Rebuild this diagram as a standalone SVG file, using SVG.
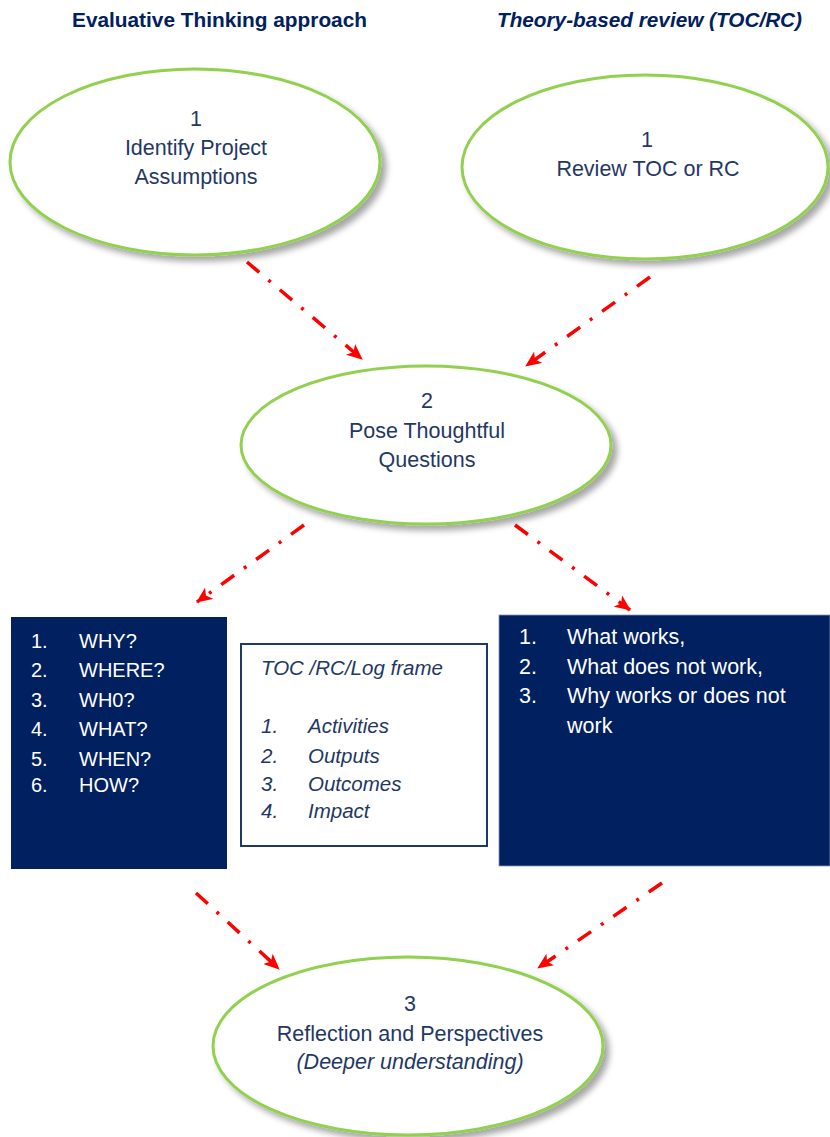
<svg xmlns="http://www.w3.org/2000/svg" width="830" height="1137" viewBox="0 0 830 1137">
<style>
.title{font-family:"Liberation Sans",Arial,sans-serif;font-weight:bold;font-size:20px;fill:#002060}
.ell{fill:#fff;stroke:#92D050;stroke-width:3}
.et{font-family:"Liberation Sans",Arial,sans-serif;font-size:21.5px;fill:#1F3864;text-anchor:middle}
.box{fill:#002060}
.wt{font-family:"Liberation Sans",Arial,sans-serif;font-size:20px;fill:#fff}
.wt2{font-family:"Liberation Sans",Arial,sans-serif;font-size:21.5px;fill:#fff}
.it{font-family:"Liberation Sans",Arial,sans-serif;font-size:20.5px;font-style:italic;fill:#1F3864}
.arr{stroke:#FF0000;stroke-width:3.5;fill:none;stroke-dasharray:16 12 3 12;marker-end:url(#ah)}
</style>
<defs>
<filter id="sh" x="-10%" y="-10%" width="125%" height="130%">
<feDropShadow dx="5" dy="5" stdDeviation="3" flood-color="#000" flood-opacity="0.35"/>
</filter>
<marker id="ah" markerUnits="userSpaceOnUse" markerWidth="16" markerHeight="14" refX="15" refY="7" orient="auto">
<path d="M0,0 L16,7 L0,14 L4,7 z" fill="#FF0000"/>
</marker>
</defs>
<rect width="830" height="1137" fill="#fff"/>
<g id="titles">
<text class="title" x="72" y="27" textLength="295" lengthAdjust="spacingAndGlyphs">Evaluative Thinking approach</text>
<text class="title" x="497" y="27" font-style="italic" textLength="305" lengthAdjust="spacingAndGlyphs">Theory-based review (TOC/RC)</text>
</g>
<g id="connectors">
<line class="arr" x1="247" y1="262" x2="362" y2="359"/>
<line class="arr" x1="650" y1="277" x2="526" y2="366"/>
<line class="arr" x1="304" y1="525" x2="197" y2="602"/>
<line class="arr" x1="515" y1="525" x2="630" y2="610"/>
<line class="arr" x1="196" y1="893" x2="279" y2="969"/>
<line class="arr" x1="662" y1="883" x2="538" y2="968"/>
</g>
<g id="node-identify">
<ellipse class="ell" cx="195" cy="162" rx="185" ry="93" filter="url(#sh)"/>
<text class="et" x="196" y="126">1</text>
<text class="et" x="196" y="155">Identify Project</text>
<text class="et" x="196" y="184">Assumptions</text>
</g>
<g id="node-review">
<ellipse class="ell" cx="645" cy="167" rx="183" ry="92" filter="url(#sh)"/>
<text class="et" x="647" y="147">1</text>
<text class="et" x="648" y="176">Review TOC or RC</text>
</g>
<g id="node-pose">
<ellipse class="ell" cx="426" cy="445" rx="185" ry="79" filter="url(#sh)"/>
<text class="et" x="427" y="408">2</text>
<text class="et" x="427" y="438">Pose Thoughtful</text>
<text class="et" x="427" y="467">Questions</text>
</g>
<g id="node-questions">
<rect class="box" x="11" y="617" width="216" height="252"/>
<text class="wt" x="31" y="648">1.</text><text class="wt" x="79" y="648">WHY?</text>
<text class="wt" x="31" y="677">2.</text><text class="wt" x="79" y="677">WHERE?</text>
<text class="wt" x="31" y="707">3.</text><text class="wt" x="79" y="707">WH0?</text>
<text class="wt" x="31" y="736">4.</text><text class="wt" x="79" y="736">WHAT?</text>
<text class="wt" x="31" y="766">5.</text><text class="wt" x="79" y="766">WHEN?</text>
<text class="wt" x="31" y="792">6.</text><text class="wt" x="79" y="792">HOW?</text>
</g>
<g id="node-toc">
<rect x="241" y="644" width="246" height="202" fill="#fff" stroke="#1F3864" stroke-width="2"/>
<text class="it" x="261" y="675">TOC /RC/Log frame</text>
<text class="it" x="261" y="733">1.</text><text class="it" x="308" y="733">Activities</text>
<text class="it" x="261" y="763">2.</text><text class="it" x="308" y="763">Outputs</text>
<text class="it" x="261" y="791">3.</text><text class="it" x="308" y="791">Outcomes</text>
<text class="it" x="261" y="818">4.</text><text class="it" x="308" y="818">Impact</text>
</g>
<g id="node-works">
<rect class="box" x="499" y="615" width="331" height="251" stroke="#8896b8" stroke-width="0.8"/>
<text class="wt2" x="519" y="644">1.</text><text class="wt2" x="567" y="644">What works,</text>
<text class="wt2" x="519" y="674">2.</text><text class="wt2" x="567" y="674">What does not work,</text>
<text class="wt2" x="519" y="703">3.</text><text class="wt2" x="567" y="703">Why works or does not</text>
<text class="wt2" x="567" y="733">work</text>
</g>
<g id="node-reflection">
<ellipse class="ell" cx="408" cy="1046" rx="195" ry="89" filter="url(#sh)"/>
<text class="et" x="410" y="1011">3</text>
<text class="et" x="410" y="1041">Reflection and Perspectives</text>
<text class="et" x="410" y="1069" font-style="italic">(Deeper understanding)</text>
</g>
</svg>
